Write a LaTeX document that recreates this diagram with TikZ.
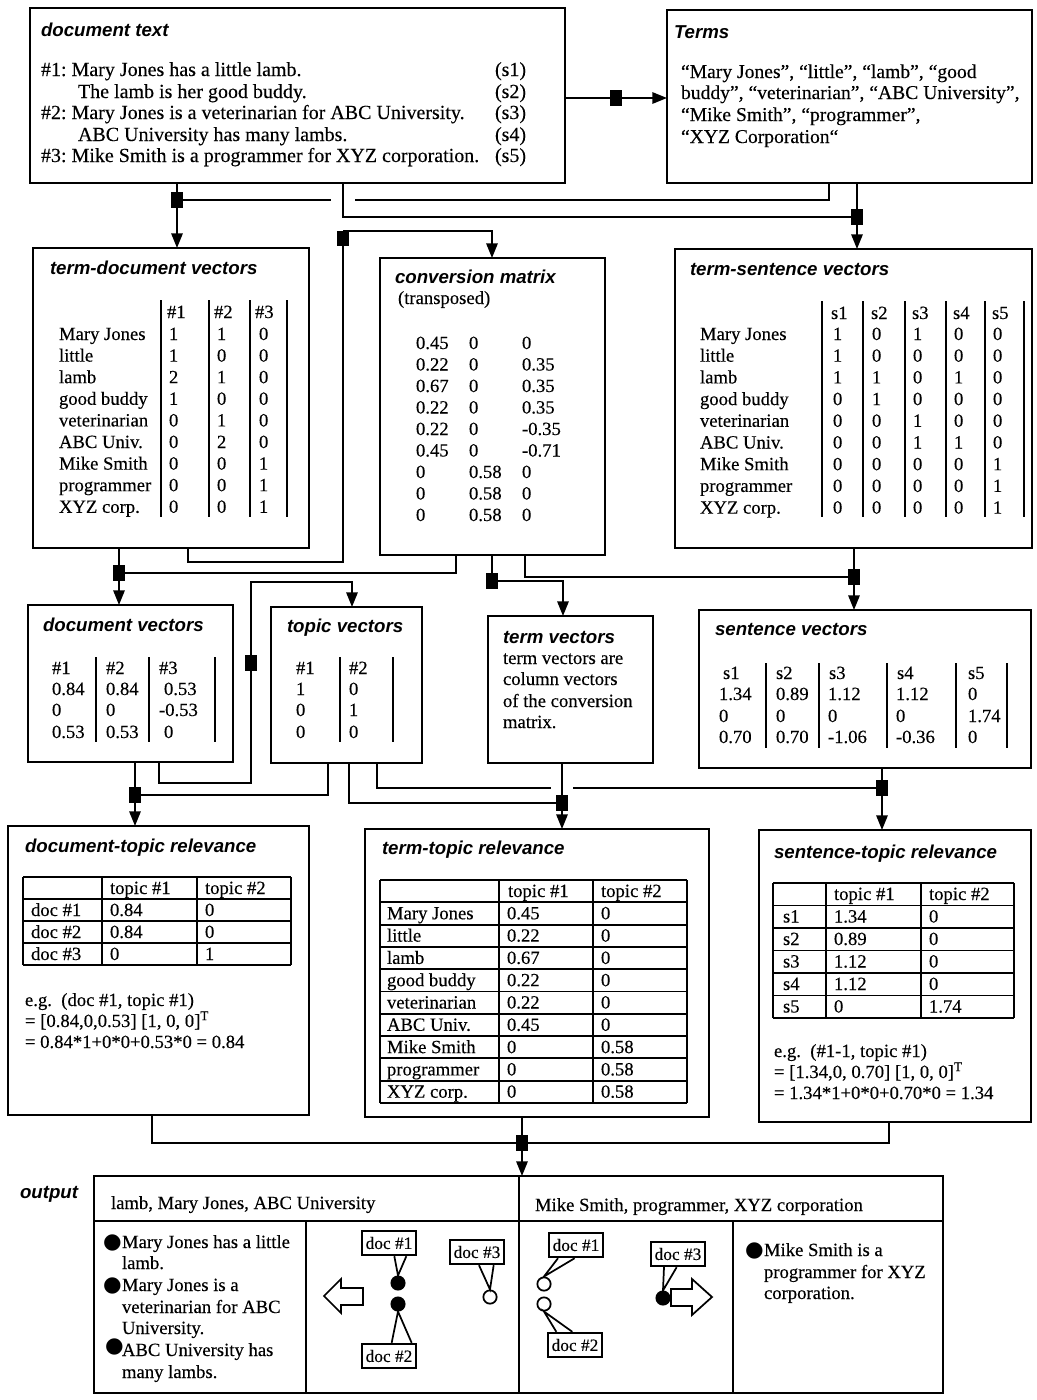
\documentclass[tikz,border=0pt]{standalone}
\usepackage{fontspec}
\setmainfont{Liberation Serif}[FakeBold=0.25]
\setsansfont{Liberation Sans}
\newfontfamily\symf{DejaVu Sans}
\usetikzlibrary{arrows.meta}
\newcommand\mkbox[5]{\node[bx, anchor=north west, minimum width={0.75pt*(#4-#2)}, minimum height={0.75pt*(#5-#3)}] (#1) at (#2,#3) {};}
\tikzset{
 bx/.style={draw, line width=1.6pt, inner sep=0pt, outer sep=0pt},
 ln/.style={draw, line width=1.5pt},
 arr/.style={ln, -{Triangle[length=11pt,width=8.5pt]}},
 jn/.style={fill, inner sep=0pt, outer sep=0pt, minimum width=8.5pt, minimum height=11.5pt},
 tx/.style={anchor=west, inner sep=0pt, outer sep=0pt, font=\fontsize{14}{16}\selectfont, text height=9pt, text depth=0pt},
 tbig/.style={tx, font=\fontsize{15}{17}\selectfont},
 ttl/.style={anchor=west, inner sep=0pt, outer sep=0pt, font=\sffamily\bfseries\itshape\fontsize{14}{16}\selectfont, text height=9pt, text depth=0pt},
 bul/.style={anchor=west, inner sep=0pt, outer sep=0pt, font=\symf\fontsize{16}{16}\selectfont, text height=9pt, text depth=0pt},
 sepl/.style={line width=1.1pt},
 tb/.style={line width=1.4pt},
 cl/.style={draw, line width=1.3pt, fill=white, inner sep=1.5pt, font=\fontsize{13}{15}\selectfont, minimum width=40pt, minimum height=18.5pt},
 dot/.style={circle, draw, line width=1.3pt, minimum size=10pt, inner sep=0pt},
 tl/.style={line width=1.3pt},
}
\begin{document}
\frenchspacing
\begin{tikzpicture}[x=0.75pt,y=-0.75pt]
\fill[white] (0,0) rectangle (1036,1400);
\useasboundingbox (0,0) rectangle (1036,1400);

% ---------- boxes ----------
\mkbox{doctext}{30}{8}{565}{183}
\mkbox{terms}{667}{10}{1032}{183}
\mkbox{termdoc}{33}{248}{309}{548}
\mkbox{convmat}{380}{258}{605}{555}
\mkbox{termsent}{675}{249}{1032}{548}
\mkbox{docvec}{28}{605}{233}{762}
\mkbox{topvec}{271}{607}{422}{763}
\mkbox{termvec}{488}{616}{653}{763}
\mkbox{sentvec}{699}{610}{1031}{768}
\mkbox{dtrel}{8}{826}{309}{1115}
\mkbox{ttrel}{365}{829}{709}{1117}
\mkbox{strel}{759}{830}{1031}{1122}
\mkbox{output}{94}{1176}{943}{1393}

% ---------- junction squares ----------
\node[jn] (J0) at (616,98) {};
\node[jn] (J1) at (177,200) {};
\node[jn] (J2) at (857,217) {};
\node[jn] (J3) at (343,238.5) {};
\node[jn] (J4) at (119,573) {};
\node[jn] (J5) at (492,581) {};
\node[jn] (J6) at (854,577) {};
\node[jn] (J7) at (251,663) {};
\node[jn] (J8) at (135,795) {};
\node[jn] (J9) at (562,803) {};
\node[jn] (J10) at (882,788) {};
\node[jn] (J11) at (522,1143) {};

% ---------- connectors ----------
\draw[arr] (doctext.east |- J0) -- (J0) -- (terms.west |- J0);
\draw[arr] (doctext.south -| J1) -- (J1) -- (termdoc.north -| J1);
\draw[ln] (terms.south -| 829,0) |- (J1);
\fill[white] (331,195) rectangle (355,205);
\draw[ln] (doctext.south -| 343,0) |- (J2);
\draw[arr] (terms.south -| J2) -- (J2) -- (termsent.north -| J2);
\draw[ln] (termdoc.south -| 188,0) |- (343,562) -- (J3);
\draw[arr] (J3.north) -| (convmat.north -| 492,0);
\draw[arr] (termdoc.south -| J4) -- (J4) -- (docvec.north -| J4);
\draw[ln] (convmat.south -| 456,0) |- (J4);
\draw[ln] (convmat.south -| J5) -- (J5);
\draw[arr] (J5.east) -| (termvec.north -| 563,0);
\draw[arr] (termsent.south -| J6) -- (J6) -- (sentvec.north -| J6);
\draw[ln] (convmat.south -| 525,0) |- (J6);
\draw[ln] (docvec.south -| 159,0) |- (251,783) -- (J7);
\draw[arr] (J7) -- (251,582) -| (topvec.north -| 352,0);
\draw[arr] (docvec.south -| J8) -- (J8) -- (dtrel.north -| J8);
\draw[ln] (topvec.south -| 328,0) |- (J8);
\draw[arr] (sentvec.south -| J10) -- (J10) -- (strel.north -| J10);
\draw[ln] (topvec.south -| 377,0) |- (J10);
\fill[white] (551,783) rectangle (573,793);
\draw[arr] (termvec.south -| J9) -- (J9) -- (ttrel.north -| J9);
\draw[ln] (topvec.south -| 349,0) |- (J9);
\draw[arr] (ttrel.south -| J11) -- (J11) -- (output.north -| J11);
\draw[ln] (dtrel.south -| 152,0) |- (J11);
\draw[ln] (strel.south -| 889,0) |- (J11);

% ---------- document text ----------
\node[ttl] (dtt) at (41,30) {document text};
\node[tbig] (d1) at (41,70) {\#1: Mary Jones has a little lamb.};
\node[tbig] (d2) at (78,92) {The lamb is her good buddy.};
\node[tbig] (d3) at (41,113) {\#2: Mary Jones is a veterinarian for ABC University.};
\node[tbig] (d4) at (78,135) {ABC University has many lambs.};
\node[tbig] (d5) at (41,156) {\#3: Mike Smith is a programmer for XYZ corporation.};
\foreach \s/\yy in {1/70,2/92,3/113,4/135,5/156}
  \node[tbig] (ds\s) at (495,\yy) {(s\s)};

% ---------- Terms ----------
\node[ttl] (tmt) at (674,32) {Terms};
\node[tx, font=\fontsize{14.7}{16}\selectfont] (tm1) at (681,72) {“Mary Jones”, “little”, “lamb”, “good};
\node[tx, font=\fontsize{14.7}{16}\selectfont] (tm2) at (681,93) {buddy”, “veterinarian”, “ABC University”,};
\node[tx, font=\fontsize{14.7}{16}\selectfont] (tm3) at (681,115) {“Mike Smith”, “programmer”,};
\node[tx, font=\fontsize{14.7}{16}\selectfont] (tm4) at (681,137) {“XYZ Corporation“};

% ---------- term-document vectors ----------
\node[ttl] (tdt) at (50,268) {term-document vectors};
\node[tx] (tdh1) at (167,312) {\#1};
\node[tx] (tdh2) at (214,312) {\#2};
\node[tx] (tdh3) at (255,312) {\#3};
\foreach \xx in {161,209,250,287} \draw[sepl] (\xx,300) -- (\xx,517);
\foreach \lab/\va/\vb/\vc [count=\i from 0] in {Mary Jones/1/1/0,little/1/0/0,lamb/2/1/0,good buddy/1/0/0,veterinarian/0/1/0,ABC Univ./0/2/0,Mike Smith/0/0/1,programmer/0/0/1,XYZ corp./0/0/1}{
  \node[tx] (tdl\i) at (59,{334+21.6*\i}) {\lab};
  \node[tx] (tda\i) at (169,{334+21.6*\i}) {\va};
  \node[tx] (tdb\i) at (217,{334+21.6*\i}) {\vb};
  \node[tx] (tdc\i) at (259,{334+21.6*\i}) {\vc};
}

% ---------- conversion matrix ----------
\node[ttl] (cmt) at (395,277) {conversion matrix};
\node[tx] (cms) at (398,298) {(transposed)};
\foreach \va/\vb/\vc [count=\i from 0] in {0.45/0/0,0.22/0/0.35,0.67/0/0.35,0.22/0/0.35,0.22/0/-0.35,0.45/0/-0.71,0/0.58/0,0/0.58/0,0/0.58/0}{
  \node[tx] (cma\i) at (416,{343+21.5*\i}) {\va};
  \node[tx] (cmb\i) at (469,{343+21.5*\i}) {\vb};
  \node[tx] (cmc\i) at (522,{343+21.5*\i}) {\vc};
}

% ---------- term-sentence vectors ----------
\node[ttl] (tst) at (690,269) {term-sentence vectors};
\foreach \k/\xx in {1/831,2/871,3/912,4/953,5/992}
  \node[tx] (tsh\k) at (\xx,313) {s\k};
\foreach \xx in {822,863,905,946,985,1024} \draw[sepl] (\xx,301) -- (\xx,517);
\foreach \lab/\va/\vb/\vc/\vd/\ve [count=\i from 0] in {Mary Jones/1/0/1/0/0,little/1/0/0/0/0,lamb/1/1/0/1/0,good buddy/0/1/0/0/0,veterinarian/0/0/1/0/0,ABC Univ./0/0/1/1/0,Mike Smith/0/0/0/0/1,programmer/0/0/0/0/1,XYZ corp./0/0/0/0/1}{
  \node[tx] (tsl\i) at (700,{334+21.7*\i}) {\lab};
  \node[tx] (tsa\i) at (833,{334+21.7*\i}) {\va};
  \node[tx] (tsb\i) at (872,{334+21.7*\i}) {\vb};
  \node[tx] (tsc\i) at (913,{334+21.7*\i}) {\vc};
  \node[tx] (tsd\i) at (954,{334+21.7*\i}) {\vd};
  \node[tx] (tse\i) at (993,{334+21.7*\i}) {\ve};
}

% ---------- document vectors ----------
\node[ttl] (dvt) at (43,625) {document vectors};
\foreach \xx in {96,149,215} \draw[sepl] (\xx,657) -- (\xx,742);
\node[tx] (dvh1) at (52,668) {\#1};
\node[tx] (dvh2) at (106,668) {\#2};
\node[tx] (dvh3) at (159,668) {\#3};
\node[tx] (dva1) at (52,689) {0.84};
\node[tx] (dvb1) at (106,689) {0.84};
\node[tx] (dvc1) at (164,689) {0.53};
\node[tx] (dva2) at (52,710) {0};
\node[tx] (dvb2) at (106,710) {0};
\node[tx] (dvc2) at (159,710) {-0.53};
\node[tx] (dva3) at (52,732) {0.53};
\node[tx] (dvb3) at (106,732) {0.53};
\node[tx] (dvc3) at (164,732) {0};

% ---------- topic vectors ----------
\node[ttl] (tvt) at (287,626) {topic vectors};
\foreach \xx in {340,393} \draw[sepl] (\xx,657) -- (\xx,742);
\node[tx] (tvh1) at (296,668) {\#1};
\node[tx] (tvh2) at (349,668) {\#2};
\foreach \va/\vb/\yy [count=\i] in {1/0/689,0/1/710,0/0/732}{
  \node[tx] (tva\i) at (296,\yy) {\va};
  \node[tx] (tvb\i) at (349,\yy) {\vb};
}

% ---------- term vectors ----------
\node[ttl] (tvc) at (503,637) {term vectors};
\node[tx] (tv1) at (503,658) {term vectors are};
\node[tx] (tv2) at (503,679) {column vectors};
\node[tx] (tv3) at (503,701) {of the conversion};
\node[tx] (tv4) at (503,722) {matrix.};

% ---------- sentence vectors ----------
\node[ttl] (svt) at (715,629) {sentence vectors};
\foreach \xx in {766,819,887,956,1007} \draw[sepl] (\xx,663) -- (\xx,748);
\foreach \k/\xx in {1/723,2/776,3/829,4/897,5/968}
  \node[tx] (svh\k) at (\xx,673) {s\k};
\foreach \va/\vb/\vc/\vd/\ve/\yy [count=\i] in {1.34/0.89/1.12/1.12/0/694,0/0/0/0/1.74/716,0.70/0.70/-1.06/-0.36/0/737}{
  \node[tx] (sva\i) at (719,\yy) {\va};
  \node[tx] (svb\i) at (776,\yy) {\vb};
  \node[tx] (svc\i) at (828,\yy) {\vc};
  \node[tx] (svd\i) at (896,\yy) {\vd};
  \node[tx] (sve\i) at (968,\yy) {\ve};
}

% ---------- document-topic relevance ----------
\node[ttl] (dtt2) at (25,846) {document-topic relevance};
\foreach \xx in {23,102,197,291} \draw[tb] (\xx,877) -- (\xx,965);
\foreach \k in {0,...,4} \draw[tb] (23,{877+22*\k}) -- (291,{877+22*\k});
\node[tx] (dth1) at (110,888) {topic \#1};
\node[tx] (dth2) at (205,888) {topic \#2};
\foreach \lab/\va/\vb [count=\i] in {doc \#1/0.84/0,doc \#2/0.84/0,doc \#3/0/1}{
  \node[tx] (dtl\i) at (31,{888+22*\i}) {\lab};
  \node[tx] (dta\i) at (110,{888+22*\i}) {\va};
  \node[tx] (dtb\i) at (205,{888+22*\i}) {\vb};
}
\node[tx] (dte1) at (25,1000) {e.g.~ (doc \#1, topic \#1)};
\node[tx] (dte2) at (25,1021) {= [0.84,0,0.53] [1, 0, 0]\textsuperscript{T}};
\node[tx] (dte3) at (25,1042) {= 0.84*1+0*0+0.53*0 = 0.84};

% ---------- term-topic relevance ----------
\node[ttl] (ttt) at (382,848) {term-topic relevance};
\foreach \xx in {380,499,593,687} \draw[tb] (\xx,880) -- (\xx,1103);
\foreach \k in {0,...,10} \draw[tb] (380,{880+22.3*\k}) -- (687,{880+22.3*\k});
\node[tx] (tth1) at (508,891) {topic \#1};
\node[tx] (tth2) at (601,891) {topic \#2};
\foreach \lab/\va/\vb [count=\i] in {Mary Jones/0.45/0,little/0.22/0,lamb/0.67/0,good buddy/0.22/0,veterinarian/0.22/0,ABC Univ./0.45/0,Mike Smith/0/0.58,programmer/0/0.58,XYZ corp./0/0.58}{
  \node[tx] (ttl\i) at (387,{891+22.3*\i}) {\lab};
  \node[tx] (tta\i) at (507,{891+22.3*\i}) {\va};
  \node[tx] (ttb\i) at (601,{891+22.3*\i}) {\vb};
}

% ---------- sentence-topic relevance ----------
\node[ttl] (stt) at (774,852) {sentence-topic relevance};
\foreach \xx in {773,826,921,1014} \draw[tb] (\xx,883) -- (\xx,1018);
\foreach \k in {0,...,6} \draw[tb] (773,{883+22.5*\k}) -- (1014,{883+22.5*\k});
\node[tx] (sth1) at (834,894) {topic \#1};
\node[tx] (sth2) at (929,894) {topic \#2};
\foreach \lab/\va/\vb [count=\i] in {s1/1.34/0,s2/0.89/0,s3/1.12/0,s4/1.12/0,s5/0/1.74}{
  \node[tx] (stl\i) at (783,{894+22.5*\i}) {\lab};
  \node[tx] (sta\i) at (834,{894+22.5*\i}) {\va};
  \node[tx] (stb\i) at (929,{894+22.5*\i}) {\vb};
}
\node[tx] (ste1) at (774,1051) {e.g.~ (\#1-1, topic \#1)};
\node[tx] (ste2) at (774,1072) {= [1.34,0, 0.70] [1, 0, 0]\textsuperscript{T}};
\node[tx] (ste3) at (774,1093) {= 1.34*1+0*0+0.70*0 = 1.34};

% ---------- output ----------
\node[ttl] (outl) at (20,1192) {output};
\draw[bx] (output.west |- 0,1221) -- (output.east |- 0,1221);
\draw[bx] (output.north -| 519,0) -- (output.south -| 519,0);
\draw[bx] (306,1221) -- (output.south -| 306,0);
\draw[bx] (733,1221) -- (output.south -| 733,0);
\node[tx] (oh1) at (111,1203) {lamb, Mary Jones, ABC University};
\node[tx] (oh2) at (535,1205) {Mike Smith, programmer, XYZ corporation};

\node[bul] (ob1) at (103,1242) {●};
\node[tx] (ot1) at (122,1242) {Mary Jones has a little};
\node[tx] (ot2) at (122,1263) {lamb.};
\node[bul] (ob2) at (103,1285) {●};
\node[tx] (ot3) at (122,1285) {Mary Jones is a};
\node[tx] (ot4) at (122,1307) {veterinarian for ABC};
\node[tx] (ot5) at (122,1328) {University.};
\node[bul] (ob3) at (105,1346) {●};
\node[tx] (ot6) at (122,1350) {ABC University has};
\node[tx] (ot7) at (122,1372) {many lambs.};

\node[bul] (ob4) at (745,1250) {●};
\node[tx] (ot8) at (764,1250) {Mike Smith is a};
\node[tx] (ot9) at (764,1272) {programmer for XYZ};
\node[tx] (ot10) at (764,1293) {corporation.};

% left diagram
\node[dot, fill=black] (p1) at (398,1283) {};
\node[dot, fill=black] (p2) at (398,1304) {};
\node[dot, fill=white] (p3) at (490,1297) {};
\node[cl] (c1) at (389,1243) {doc \#1};
\node[cl] (c2) at (389,1356) {doc \#2};
\node[cl] (c3) at (477,1252) {doc \#3};
\draw[tl] ([xshift=4pt]c1.south) -- (p1.north) -- ([xshift=13pt]c1.south);
\draw[tl] ([xshift=2pt]c2.north) -- (p2.south) -- ([xshift=17pt]c2.north);
\draw[tl] ([xshift=1.5pt]c3.south) -- (p3.north) -- ([xshift=12.5pt]c3.south);
\draw[tl] (324,1296) -- (341,1279) -- (341,1288) -- (363,1288) -- (363,1305) -- (341,1305) -- (341,1313) -- cycle;

% right diagram
\node[dot, fill=white] (p4) at (544,1284) {};
\node[dot, fill=white] (p5) at (544,1304) {};
\node[dot, fill=black] (p6) at (663,1298) {};
\node[cl] (c4) at (576,1245) {doc \#1};
\node[cl] (c5) at (575,1345) {doc \#2};
\node[cl] (c6) at (678,1254) {doc \#3};
\draw[tl] ([xshift=-13.5pt]c4.south) -- (p4.north) -- ([xshift=-1pt]c4.south);
\draw[tl] ([xshift=-14pt]c5.north) -- (p5.south) -- ([xshift=-2pt]c5.north);
\draw[tl] ([xshift=-10.5pt]c6.south) -- (p6.north) -- ([xshift=-1pt]c6.south);
\draw[tl] (712,1297) -- (692,1279) -- (692,1289) -- (671,1289) -- (671,1306) -- (692,1306) -- (692,1315) -- cycle;
\end{tikzpicture}
\end{document}
